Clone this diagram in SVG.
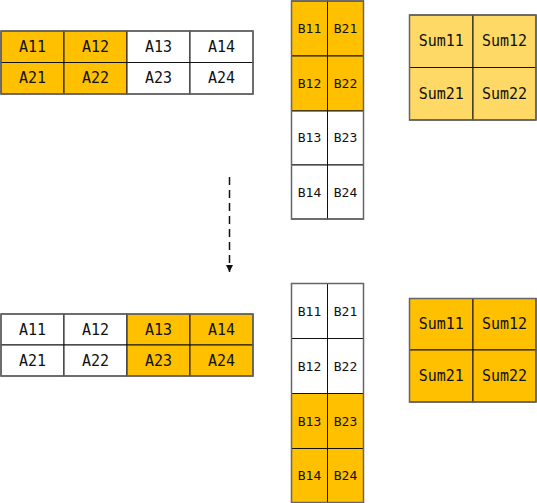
<svg xmlns="http://www.w3.org/2000/svg" width="537" height="503" viewBox="0 0 537 503">
<style>
.c{stroke:#111;stroke-width:1}
.o{fill:#FFC000}
.w{fill:#fff}
.l{fill:#FFD966}
.f{fill:none;stroke:#666;stroke-width:1.5}
text{font-family:"DejaVu Sans Mono","Liberation Mono",monospace;fill:#111;text-anchor:middle;dominant-baseline:central}
.a{font-size:15px}
.b{font-size:13px}
.s{font-size:15px}
</style>
<defs>
<marker id="ah" viewBox="0 0 10 10" refX="10" refY="5" markerWidth="7" markerHeight="7" orient="auto" markerUnits="userSpaceOnUse"><path d="M0,0 L10,5 L0,10 z" fill="#111"/></marker>
</defs>
<g id="A1">
<rect class="c o" x="1" y="31" width="63" height="31.5"/><text class="a" x="32.5" y="47">A11</text>
<rect class="c o" x="64" y="31" width="63" height="31.5"/><text class="a" x="95.5" y="47">A12</text>
<rect class="c w" x="127" y="31" width="63" height="31.5"/><text class="a" x="158.5" y="47">A13</text>
<rect class="c w" x="190" y="31" width="63" height="31.5"/><text class="a" x="221.5" y="47">A14</text>
<rect class="c o" x="1" y="62.5" width="63" height="31.5"/><text class="a" x="32.5" y="78">A21</text>
<rect class="c o" x="64" y="62.5" width="63" height="31.5"/><text class="a" x="95.5" y="78">A22</text>
<rect class="c w" x="127" y="62.5" width="63" height="31.5"/><text class="a" x="158.5" y="78">A23</text>
<rect class="c w" x="190" y="62.5" width="63" height="31.5"/><text class="a" x="221.5" y="78">A24</text>
<rect class="f" x="1" y="31" width="252" height="63"/>
</g>
<g id="B1">
<rect class="c o" x="291.5" y="1" width="36" height="55"/><text class="b" x="309.5" y="28">B11</text>
<rect class="c o" x="327.5" y="1" width="36" height="55"/><text class="b" x="345.5" y="28">B21</text>
<rect class="c o" x="291.5" y="56" width="36" height="55"/><text class="b" x="309.5" y="83">B12</text>
<rect class="c o" x="327.5" y="56" width="36" height="55"/><text class="b" x="345.5" y="83">B22</text>
<rect class="c w" x="291.5" y="111" width="36" height="54"/><text class="b" x="309.5" y="137">B13</text>
<rect class="c w" x="327.5" y="111" width="36" height="54"/><text class="b" x="345.5" y="137">B23</text>
<rect class="c w" x="291.5" y="165" width="36" height="54"/><text class="b" x="309.5" y="192">B14</text>
<rect class="c w" x="327.5" y="165" width="36" height="54"/><text class="b" x="345.5" y="192">B24</text>
<rect class="f" x="291.5" y="1" width="72" height="218"/>
</g>
<g id="S1">
<rect class="c l" x="409.5" y="15" width="63.5" height="52.5"/><text class="s" x="441.3" y="41">Sum11</text>
<rect class="c l" x="473" y="15" width="63" height="52.5"/><text class="s" x="504.5" y="41">Sum12</text>
<rect class="c l" x="409.5" y="67.5" width="63.5" height="52.5"/><text class="s" x="441.3" y="93.5">Sum21</text>
<rect class="c l" x="473" y="67.5" width="63" height="52.5"/><text class="s" x="504.5" y="93.5">Sum22</text>
<rect class="f" x="409.5" y="15" width="126.5" height="105"/>
</g>
<g id="A2">
<rect class="c w" x="1" y="314" width="63" height="31"/><text class="a" x="32.5" y="329.5">A11</text>
<rect class="c w" x="64" y="314" width="63" height="31"/><text class="a" x="95.5" y="329.5">A12</text>
<rect class="c o" x="127" y="314" width="63" height="31"/><text class="a" x="158.5" y="329.5">A13</text>
<rect class="c o" x="190" y="314" width="63" height="31"/><text class="a" x="221.5" y="329.5">A14</text>
<rect class="c w" x="1" y="345" width="63" height="31"/><text class="a" x="32.5" y="360.5">A21</text>
<rect class="c w" x="64" y="345" width="63" height="31"/><text class="a" x="95.5" y="360.5">A22</text>
<rect class="c o" x="127" y="345" width="63" height="31"/><text class="a" x="158.5" y="360.5">A23</text>
<rect class="c o" x="190" y="345" width="63" height="31"/><text class="a" x="221.5" y="360.5">A24</text>
<rect class="f" x="1" y="314" width="252" height="62"/>
</g>
<g id="B2">
<rect class="c w" x="291.5" y="283.5" width="36" height="55"/><text class="b" x="309.5" y="311">B11</text>
<rect class="c w" x="327.5" y="283.5" width="36" height="55"/><text class="b" x="345.5" y="311">B21</text>
<rect class="c w" x="291.5" y="338.5" width="36" height="55"/><text class="b" x="309.5" y="366">B12</text>
<rect class="c w" x="327.5" y="338.5" width="36" height="55"/><text class="b" x="345.5" y="366">B22</text>
<rect class="c o" x="291.5" y="393.5" width="36" height="55"/><text class="b" x="309.5" y="421">B13</text>
<rect class="c o" x="327.5" y="393.5" width="36" height="55"/><text class="b" x="345.5" y="421">B23</text>
<rect class="c o" x="291.5" y="448.5" width="36" height="54"/><text class="b" x="309.5" y="475.5">B14</text>
<rect class="c o" x="327.5" y="448.5" width="36" height="54"/><text class="b" x="345.5" y="475.5">B24</text>
<rect class="f" x="291.5" y="283.5" width="72" height="219"/>
</g>
<g id="S2">
<rect class="c o" x="409.5" y="298.5" width="63.5" height="51.5"/><text class="s" x="441.3" y="324">Sum11</text>
<rect class="c o" x="473" y="298.5" width="63" height="51.5"/><text class="s" x="504.5" y="324">Sum12</text>
<rect class="c o" x="409.5" y="350" width="63.5" height="52"/><text class="s" x="441.3" y="376">Sum21</text>
<rect class="c o" x="473" y="350" width="63" height="52"/><text class="s" x="504.5" y="376">Sum22</text>
<rect class="f" x="409.5" y="298.5" width="126.5" height="103.5"/>
</g>
<g id="connectors">
<line x1="229.5" y1="177" x2="229.5" y2="272" stroke="#111" stroke-width="1.5" stroke-dasharray="8,5" marker-end="url(#ah)"/>
</g>
</svg>
